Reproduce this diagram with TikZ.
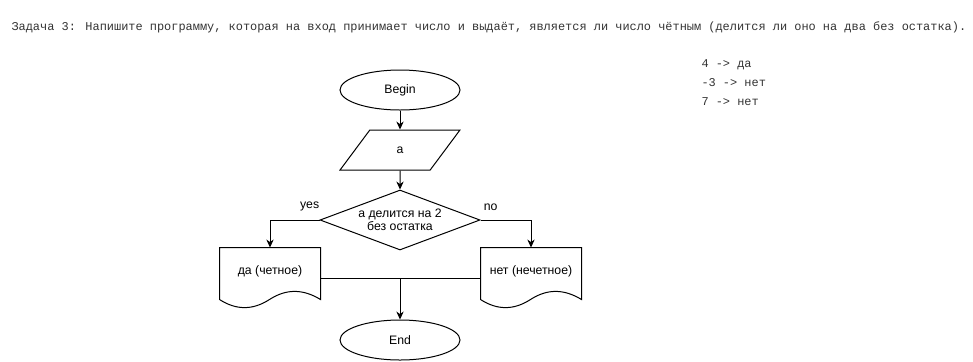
\documentclass[tikz,border=0pt]{standalone}
\usepackage{fontspec}
\setmainfont{Liberation Sans}
\newfontfamily\codefont{Liberation Mono}
\usetikzlibrary{arrows.meta,shapes.geometric,calc}

\tikzstyle{terminal}=[ellipse, draw, minimum width=90pt, minimum height=30pt, inner sep=0pt]
\tikzstyle{io}=[trapezium, trapezium left angle=63.4, trapezium right angle=116.6, trapezium stretches=true, draw, minimum width=90pt, minimum height=30pt, inner sep=0pt]
\tikzstyle{decision}=[diamond, draw, aspect=2.67, minimum width=120pt, minimum height=45pt, inner sep=0pt, align=center]
\tikzstyle{docbox}=[rectangle, minimum width=75pt, minimum height=45pt, inner sep=0pt, text height=6.5pt, text depth=12pt]
\tikzstyle{arrow}=[draw=black, -{Stealth[length=6pt, width=5.5pt]}]
\tikzstyle{code}=[inner sep=0pt, text=black!80, font=\codefont\fontsize{8.95}{14.25}\selectfont]

% document symbol: straight top and sides, wavy bottom
\newcommand{\docoutline}[1]{%
  \draw (#1.north west) -- (#1.north east) -- ($(#1.south east)+(0,-9)$)
    .. controls ($(#1.south west)+(83.3,-19.8)$) and ($(#1.south west)+(66.7,-19.8)$) .. ($(#1.south west)+(50,-9)$)
    .. controls ($(#1.south west)+(33.3,1.8)$) and ($(#1.south west)+(16.7,1.8)$) .. ($(#1.south west)+(0,-9)$)
    -- cycle;}

\begin{document}
\begin{tikzpicture}[x=0.75pt, y=-0.75pt, line width=0.75pt, font=\fontsize{9.2}{10}\selectfont]
  \useasboundingbox (0,0) rectangle (973,361);

  \node[code, anchor=west] (task) at (11,27) {Задача 3: Напишите программу, которая на вход принимает число и выдаёт, является ли число чётным (делится ли оно на два без остатка).};
  \node[code, anchor=north west, align=left] (cases) at (701,59) {4 -> да\\-3 -> нет\\7 -> нет};

  \node[terminal] (begin) at (400,90) {Begin};
  \node[io] (input) at (400,150) {a};
  \node[decision] (cond) at (400,220) {а делится на 2\\без остатка};
  \node[docbox] (even) at (270,278) {да (четное)};
  \node[docbox] (odd) at (531,278) {нет (нечетное)};
  \node[terminal] (stop) at (400,340) {End};
  \docoutline{even}
  \docoutline{odd}

  \draw[arrow] (begin) -- (input);
  \draw[arrow] (input) -- (cond);
  \draw[arrow] (cond.west) -| node[pos=0.1, above=3pt] {yes} (even.north);
  \draw[arrow] (cond.east) -| node[pos=0.1, above=3pt] {no} (odd.north);
  \draw (even.east) -- (odd.west);
  \coordinate (join) at (even.east -| stop.north);
  \draw[arrow] (join) -- (stop);
\end{tikzpicture}
\end{document}
